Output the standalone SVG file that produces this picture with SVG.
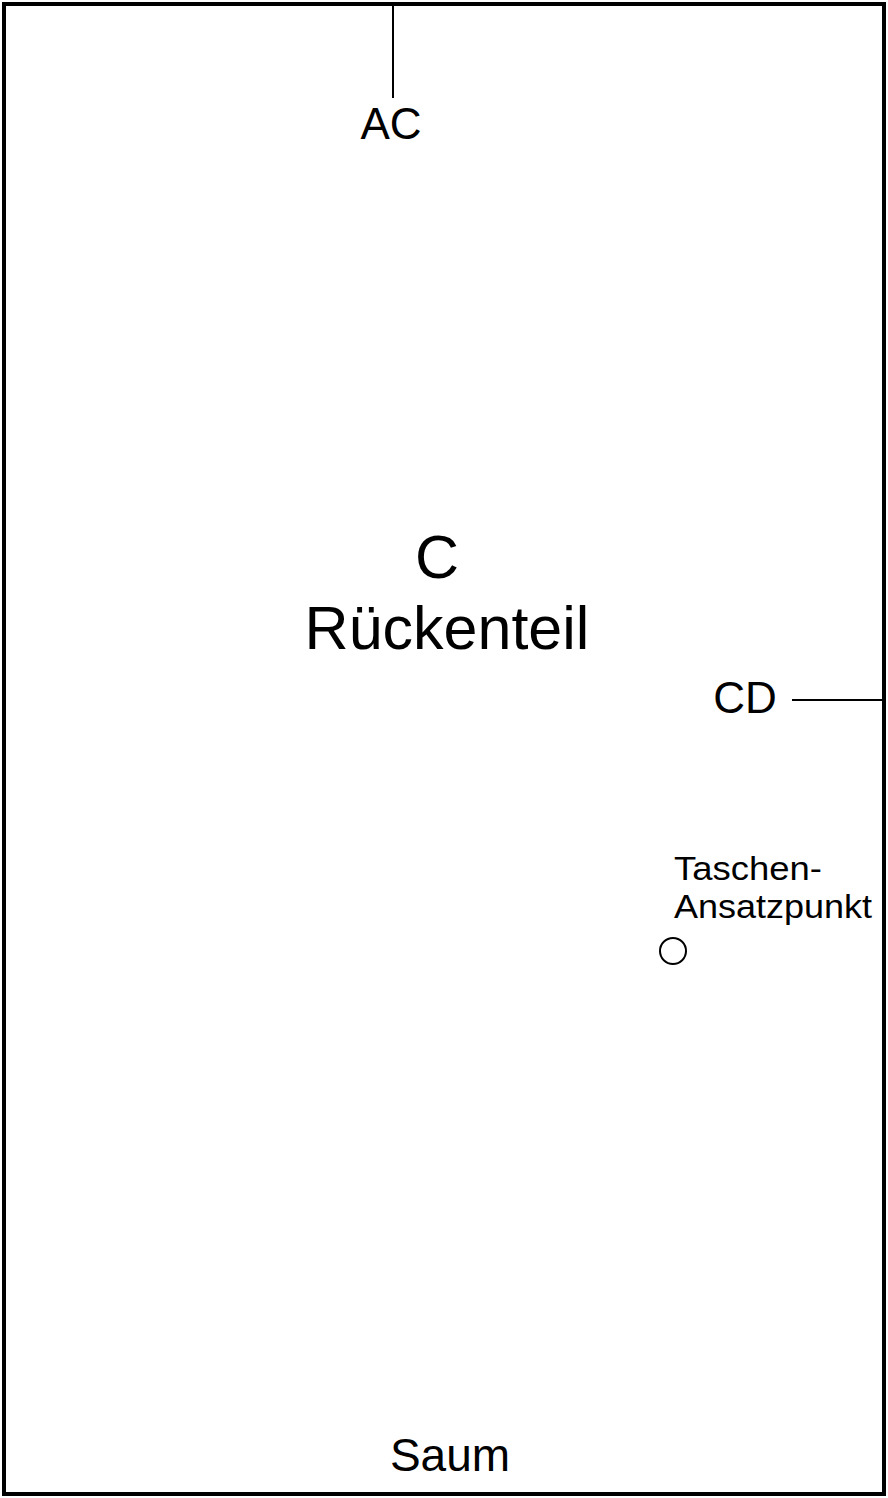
<svg xmlns="http://www.w3.org/2000/svg" width="888" height="1498" viewBox="0 0 888 1498">
<style>
.t{font-family:"Liberation Sans",Arial,sans-serif;fill:#000;text-anchor:middle}
.l{stroke:#000;stroke-width:2;fill:none}
</style>
<rect width="888" height="1498" fill="#fff"/>
<g id="piece">
<rect x="4" y="4" width="880" height="1490" fill="none" stroke="#000" stroke-width="4"/>
</g>
<g id="connectors">
<line class="l" x1="393" y1="4" x2="393" y2="98"/>
<line class="l" x1="792" y1="700" x2="884" y2="700"/>
</g>
<g id="labels">
<text class="t" x="391" y="139" font-size="44">AC</text>
<text class="t" x="437" y="578" font-size="61">C</text>
<text class="t" x="447" y="649" font-size="61">Rückenteil</text>
<text class="t" x="745" y="713" font-size="44">CD</text>
<text class="t" x="450" y="1471" font-size="46">Saum</text>
</g>
<g id="pocket">
<text class="t" x="674" y="880" font-size="34" textLength="148" lengthAdjust="spacingAndGlyphs" style="text-anchor:start">Taschen-</text>
<text class="t" x="674" y="918" font-size="34" textLength="198" lengthAdjust="spacingAndGlyphs" style="text-anchor:start">Ansatzpunkt</text>
<circle cx="673" cy="951" r="13" fill="none" stroke="#000" stroke-width="2"/>
</g>
</svg>
